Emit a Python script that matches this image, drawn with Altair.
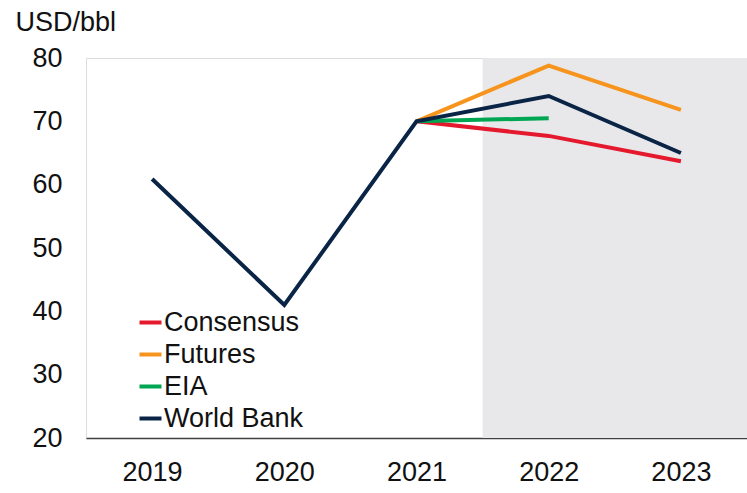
import altair as alt
import pandas as pd

years = [2019, 2020, 2021, 2022, 2023]
series_names = ["Consensus", "Futures", "EIA", "World Bank"]
series_colors = ["#e5192d", "#f7941d", "#00a651", "#0a2446"]

consensus = [None, None, 70.0, 67.7, 63.7]
futures = [None, None, 70.0, 78.8, 71.8]
eia = [None, None, 70.0, 70.5, None]
world_bank = [60.9, 41.0, 70.0, 74.0, 65.0]

rows = []
for name, vals in zip(series_names, [consensus, futures, eia, world_bank]):
    for y, v in zip(years, vals):
        if v is not None:
            rows.append({"year": y, "series": name, "value": v})
df = pd.DataFrame(rows)

shade = pd.DataFrame({"x0": [2021.5], "x1": [2023.5], "y0": [20], "y1": [80]})

FONT = "Liberation Sans"
FS = 27

xscale = alt.Scale(domain=[2018.5, 2023.5], nice=False, zero=False)
yscale = alt.Scale(domain=[20, 80], nice=False, zero=False)

band = alt.Chart(shade).mark_rect(color="#e8e8ea").encode(
    x=alt.X("x0:Q", scale=xscale),
    x2="x1:Q",
    y=alt.Y("y0:Q", scale=yscale),
    y2="y1:Q",
)

lines = alt.Chart(df).mark_line(strokeWidth=4, strokeCap="butt", strokeJoin="miter").encode(
    x=alt.X("year:Q", scale=xscale,
            axis=alt.Axis(values=years, format="d", title=None, grid=False, ticks=False,
                          domainColor="#404040", domainWidth=1.5,
                          labelFontSize=FS, labelFont=FONT, labelColor="#111111",
                          labelPadding=21)),
    y=alt.Y("value:Q", scale=yscale,
            axis=alt.Axis(values=[20, 30, 40, 50, 60, 70, 80], title="USD/bbl",
                          grid=False, ticks=False, domain=False,
                          labelFontSize=FS, labelFont=FONT, labelColor="#111111",
                          labelPadding=24,
                          titleAngle=0, titleAlign="left", titleBaseline="alphabetic",
                          titleX=-71, titleY=-28, titleFontSize=FS, titleFont=FONT,
                          titleFontWeight="normal", titleColor="#111111")),
    color=alt.Color("series:N",
                    scale=alt.Scale(domain=series_names, range=series_colors),
                    legend=alt.Legend(title=None, orient="none", legendX=51, legendY=251,
                                      symbolType="stroke", symbolSize=484, symbolStrokeWidth=4,
                                      labelFontSize=FS, labelFont=FONT, labelColor="#111111",
                                      labelOffset=0, rowPadding=4, padding=0)),
    detail="series:N",
)

chart = alt.layer(band, lines).properties(
    width=661, height=380,
    autosize=alt.AutoSizeParams(type="none"),
    padding={"left": 86, "top": 58, "right": 0, "bottom": 55},
).configure_view(stroke=None).configure(background="white")

chart.save("out.html", embed_options={"renderer": "svg", "actions": False})
